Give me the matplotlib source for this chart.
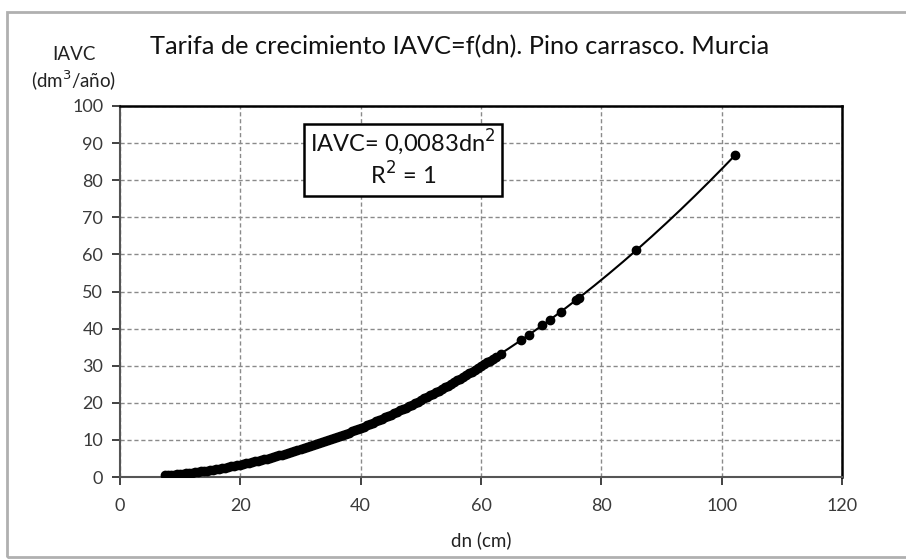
import matplotlib.pyplot as plt
from matplotlib.patches import Rectangle
import numpy as np

plt.rcParams['font.family'] = ['Lato', 'DejaVu Sans']

# diametro normal (cm) e incremento anual de volumen (dm3/año)
dn = [7.5, 8, 8.5, 9, 9.5, 10, 10.5, 11, 11.5, 12, 12.5, 13, 13.5, 14, 14.5,
      15, 15.5, 16, 16.5, 17, 17.5, 18, 18.5, 19, 19.5, 20, 20.5, 21, 21.5,
      22, 22.5, 23, 23.5, 24, 24.5, 25, 25.5, 26, 26.5, 27, 27.5, 28, 28.5,
      29, 29.5, 30, 30.5, 31, 31.5, 32, 32.5, 33, 33.5, 34, 34.5, 35, 35.5,
      36, 36.5, 37, 37.5, 38, 38.5, 39, 39.5, 40, 40.5,
      41, 41.5, 42, 42.5, 43, 43.5, 44, 44.5, 45, 45.5, 46, 46.5, 47, 47.5,
      48, 48.5, 49, 49.5, 50, 50.5, 51, 51.5, 52, 52.5, 53, 53.5, 54, 54.5,
      55, 55.5, 56, 56.5, 57, 57.5, 58, 58.5, 59, 59.5, 60, 60.5, 61, 61.5,
      62, 62.5, 63.3, 66.7, 68.0, 70.2, 71.5, 73.3, 75.8, 76.3, 85.8, 102.2]
iavc = [0.47, 0.53, 0.60, 0.67, 0.75, 0.83, 0.92, 1.00, 1.10, 1.20, 1.30, 1.40,
        1.51, 1.63, 1.75, 1.87, 1.99, 2.12, 2.26, 2.40, 2.54, 2.69, 2.84, 3.00,
        3.16, 3.32, 3.49, 3.66, 3.84, 4.02, 4.20, 4.39, 4.58, 4.78, 4.98, 5.19,
        5.40, 5.61, 5.83, 6.05, 6.28, 6.51, 6.74, 6.98, 7.22, 7.47, 7.72, 7.98,
        8.24, 8.50, 8.77, 9.04, 9.31, 9.59, 9.88, 10.17, 10.46, 10.76, 11.06,
        11.36, 11.67, 11.99, 12.30, 12.62, 12.95, 13.28, 13.61,
        13.95, 14.29, 14.64, 14.99, 15.35, 15.71, 16.07, 16.44, 16.81, 17.18,
        17.56, 17.95, 18.33, 18.73, 19.12, 19.52, 19.93, 20.34, 20.75, 21.17,
        21.59, 22.01, 22.44, 22.88, 23.31, 23.76, 24.20, 24.65, 25.11, 25.57,
        26.03, 26.50, 26.97, 27.44, 27.92, 28.40, 28.89, 29.38, 29.88, 30.38,
        30.88, 31.39, 31.91, 32.42, 33.2, 36.9, 38.4, 40.9, 42.4, 44.6, 47.7,
        48.3, 61.1, 86.7]
coef = 0.0083  # IAVC = 0,0083 dn^2

fig = plt.figure(figsize=(9.06, 5.59), dpi=100)
W, H = 906, 559
fig.patches.append(Rectangle((7 / W, 2 / H), 1.0, (H - 14) / H, transform=fig.transFigure,
                             fill=False, edgecolor='#b0b0b0', linewidth=2))

ax = fig.add_axes([120 / W, (H - 477) / H, 722 / W, (477 - 106) / H])

xs = np.linspace(min(dn), max(dn), 200)
ax.plot(xs, coef * xs ** 2, color='black', linewidth=1.5, zorder=3)
ax.plot(dn, iavc, 'o', color='black', markersize=6, zorder=4)

ax.set_xlim(0, 120)
ax.set_ylim(0, 100)
ax.set_xticks(range(0, 121, 20))
ax.set_yticks(range(0, 101, 10))
ax.grid(True, color='#8a8a8a', linestyle=(0, (3, 2)), linewidth=1)
ax.set_axisbelow(True)
ax.tick_params(direction='out', length=6, width=1.3, colors='#333333',
               labelcolor='#3a3a3a', labelsize=13)
ax.tick_params(axis='x', pad=9)
ax.tick_params(axis='y', pad=6)
for s in ['left', 'bottom']:
    ax.spines[s].set_color('#555555')
    ax.spines[s].set_linewidth(1.5)
for s in ['top', 'right']:
    ax.spines[s].set_color('black')
    ax.spines[s].set_linewidth(1.8)

ax.add_patch(Rectangle((30.5, 75.8), 33, 19.4, facecolor='white', edgecolor='black',
                       linewidth=1.8, zorder=5))
ax.text(47, 90.2, 'IAVC= 0,0083dn$^2$', ha='center', va='center', fontsize=17,
        color='#111111', zorder=6)
ax.text(47, 81.3, 'R$^2$ = 1', ha='center', va='center', fontsize=17,
        color='#111111', zorder=6)

fig.text(460 / W, 1 - 47 / H, 'Tarifa de crecimiento IAVC=f(dn). Pino carrasco. Murcia',
         ha='center', va='center', fontsize=18.3, color='#111111')
fig.text(74 / W, 1 - 54 / H, 'IAVC', ha='center', va='center', fontsize=13.5,
         color='#222222')
fig.text(74 / W, 1 - 81 / H, '(dm$^3$/año)', ha='center', va='center', fontsize=13.5,
         color='#222222')
fig.text(481 / W, 1 - 540 / H, 'dn (cm)', ha='center', va='center', fontsize=13.5,
         color='#222222')

fig.savefig('out.png', dpi=100)
